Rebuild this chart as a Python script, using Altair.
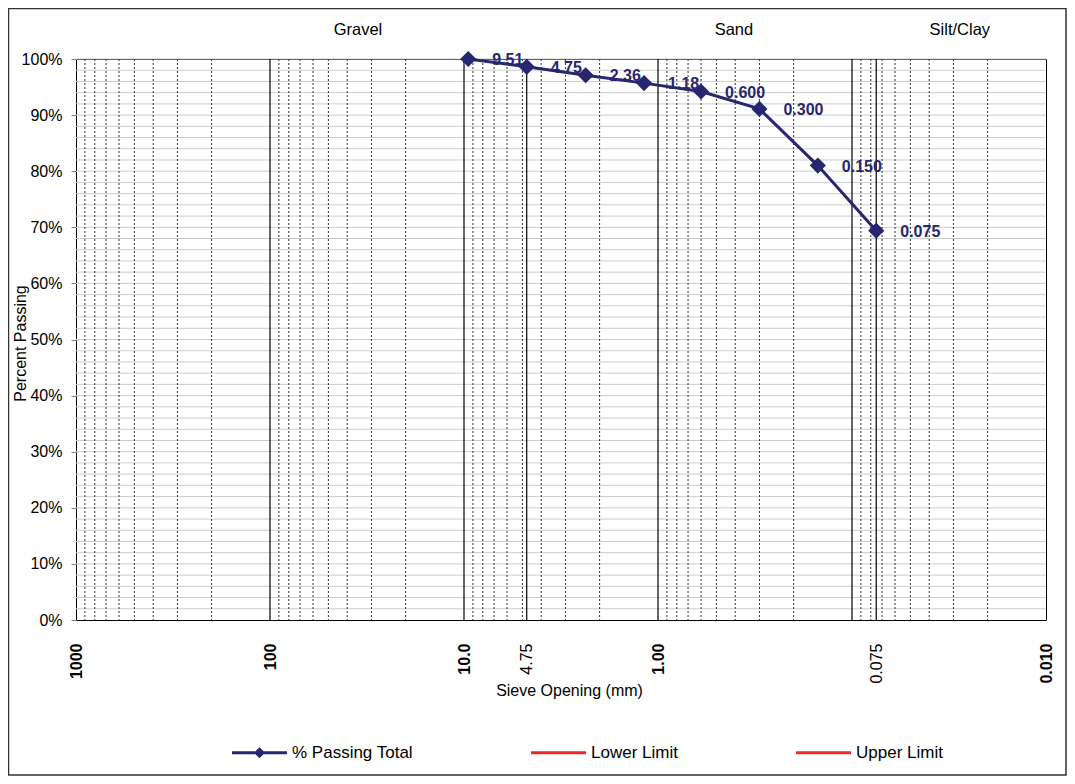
import altair as alt
import pandas as pd

# ---- data ----
sieve_mm = [9.51, 4.75, 2.36, 1.18, 0.600, 0.300, 0.150, 0.075]
pct_passing = [100.0, 98.6, 97.1, 95.7, 94.2, 91.1, 81.0, 69.4]
point_labels = ["9.51", "4.75", "2.36", "1.18", "0.600", "0.300", "0.150", "0.075"]

x_tick_values = [1000, 100, 10, 4.75, 1, 0.075, 0.01]
x_tick_labels = ["1000", "100", "10.0", "4.75", "1.00", "0.075", "0.010"]
x_tick_bold = [True, True, True, False, True, False, True]

y_tick_values = [0, 10, 20, 30, 40, 50, 60, 70, 80, 90, 100]
y_grid_values = list(range(2, 101, 2))

major_lines = [100, 10, 1, 0.1, 4.75, 0.075]
minor_lines = [k * 10.0 ** e for e in (2, 1, 0, -1, -2) for k in range(2, 10)]

zone_names = ["Gravel", "Sand", "Silt/Clay"]
zone_x = [35.2, 0.406, 0.0278]

series_names = ["% Passing Total", "Lower Limit", "Upper Limit"]
series_colors = ["#262671", "#ee2a2a", "#ee2a2a"]

NAVY = "#262671"
FONT = "Liberation Sans"

# legend symbol paths (unit box, scaled by sqrt(size)/2)
line_path = "M-1,-0.055H1V0.055H-1Z"
line_diamond_path = line_path + "M0,-0.2L0.2,0L0,0.2L-0.2,0Z"
series_shapes = [line_diamond_path, line_path, line_path]

df = pd.DataFrame({"sieve": sieve_mm, "pct": pct_passing, "label": point_labels})

xscale = alt.Scale(type="log", domain=[0.01, 1000], reverse=True, nice=False)
yscale = alt.Scale(domain=[0, 100], nice=False, zero=False)

label_expr = " : ".join(
    f"datum.value == {v} ? '{l}'" for v, l in zip(x_tick_values, x_tick_labels)
) + " : ''"
normal_test = " || ".join(
    f"datum.value == {v}" for v, b in zip(x_tick_values, x_tick_bold) if not b
)

x_axis = alt.Axis(
    values=x_tick_values,
    labelExpr=label_expr,
    labelAngle=-90,
    labelFontSize=16,
    labelFont=FONT,
    labelColor="#000",
    labelFontWeight={"condition": {"test": normal_test, "value": "normal"}, "value": "bold"},
    labelPadding=23,
    labelOverlap=False,
    labelFlush=False,
    labelBound=False,
    ticks=False,
    domain=False,
    grid=False,
    title="Sieve Opening (mm)",
    titleFont=FONT,
    titleFontSize=16,
    titleFontWeight="normal",
    titleColor="#000",
    titleX=493,
    titleY=70,
    titleAlign="center",
    titleBaseline="middle",
)

y_axis = alt.Axis(
    values=y_tick_values,
    labelExpr="datum.value + '%'",
    labelFontSize=16,
    labelFont=FONT,
    labelColor="#000",
    labelPadding=9,
    tickSize=5,
    tickColor="#808080",
    domain=False,
    grid=False,
    title="Percent Passing",
    titleFont=FONT,
    titleFontSize=16,
    titleFontWeight="normal",
    titleColor="#000",
    titleAngle=-90,
    titleX=-51,
    titleY=284,
    titleAlign="center",
    titleBaseline="alphabetic",
)

# horizontal grid
hgrid = alt.Chart(pd.DataFrame({"g": y_grid_values})).mark_rule(
    color="#cccccc", strokeWidth=1
).encode(y=alt.Y("g:Q", scale=yscale, axis=y_axis))

# vertical minor grid (dotted)
vminor = alt.Chart(pd.DataFrame({"v": minor_lines})).mark_rule(
    color="#333333", strokeWidth=1, strokeDash=[2, 2]
).encode(x=alt.X("v:Q", scale=xscale, axis=x_axis))

# vertical major lines (solid)
vmajor = alt.Chart(pd.DataFrame({"v": major_lines})).mark_rule(
    color="#000000", strokeWidth=1.2
).encode(x=alt.X("v:Q", scale=xscale))

base = alt.Chart(df).encode(
    x=alt.X("sieve:Q", scale=xscale),
    y=alt.Y("pct:Q", scale=yscale),
)
line = base.mark_line(color=NAVY, strokeWidth=3)
pts = base.mark_point(shape="diamond", filled=True, size=260, color=NAVY, opacity=1)
txt = base.mark_text(
    align="left", baseline="middle", dx=24, dy=1,
    fontSize=16, fontWeight="bold", font=FONT, color=NAVY,
).encode(text="label:N")

zones = alt.Chart(pd.DataFrame({"name": zone_names, "zx": zone_x})).mark_text(
    fontSize=16.5, font=FONT, color="#000", baseline="middle", align="center"
).encode(
    x=alt.X("zx:Q", scale=xscale),
    y=alt.value(-29),
    text="name:N",
)

# outer frame of the figure
frame = alt.Chart(pd.DataFrame({"f": [0]})).mark_rect(
    filled=False, stroke="#333333", strokeWidth=1.5
).encode(
    x=alt.value(-67.5), x2=alt.value(990),
    y=alt.value(-50.5), y2=alt.value(716),
)

# legend layer (no visible marks, only drives the legend)
leg = alt.Legend(
    title=None,
    orient="none",
    direction="horizontal",
    legendX=156,
    legendY=666,
    padding=0,
    symbolSize=3025,
    symbolStrokeWidth=0,
    labelFont=FONT,
    labelFontSize=17,
    labelColor="#000",
    labelOffset=5,
    columnPadding=118,
    labelLimit=300,
)
legend_layer = alt.Chart(alt.Data(values=[])).mark_point(
    filled=True, opacity=1, size=3025
).encode(
    color=alt.Color("series:N", scale=alt.Scale(domain=series_names, range=series_colors), legend=leg),
    shape=alt.Shape("series:N", scale=alt.Scale(domain=series_names, range=series_shapes), legend=leg),
)

chart = alt.layer(
    hgrid, vminor, vmajor, line, pts, txt, zones, frame, legend_layer
).properties(
    width=970,
    height=561,
    padding={"left": 68, "top": 51, "right": 21, "bottom": 156},
    autosize=alt.AutoSizeParams(type="none"),
).configure(
    font=FONT,
).configure_view(
    stroke="#000000", strokeWidth=1
)

chart.save("out.html", embed_options={"renderer": "svg", "actions": False})
